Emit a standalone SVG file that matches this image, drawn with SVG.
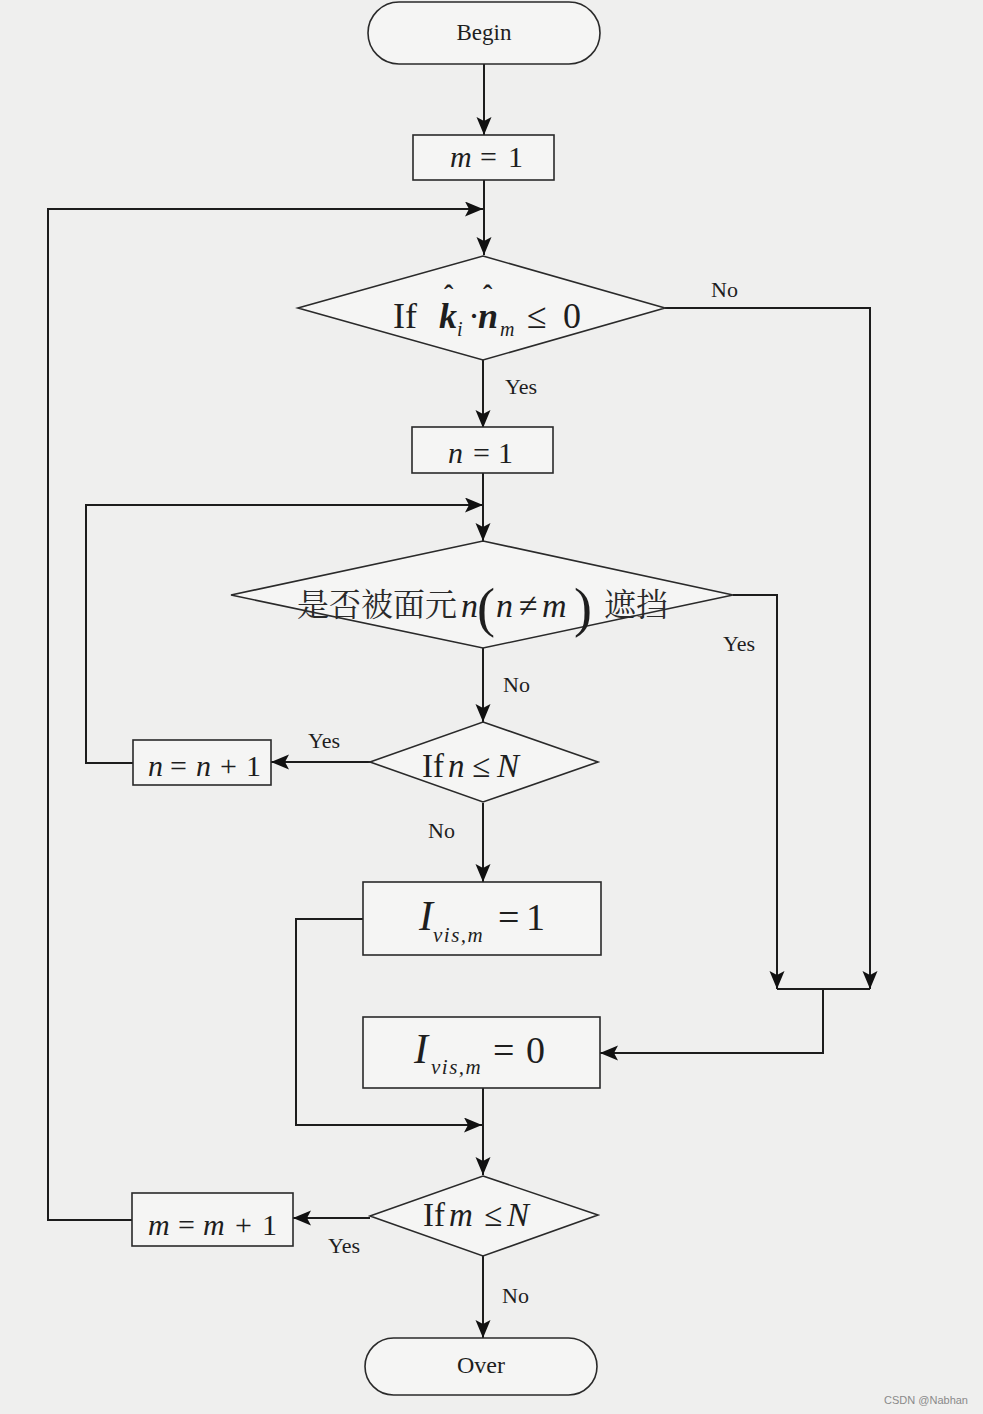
<svg xmlns="http://www.w3.org/2000/svg" width="983" height="1414" viewBox="0 0 983 1414">
<style>
.shape{fill:#f5f5f4;stroke:#2a2a2a;stroke-width:1.6}
.line{fill:none;stroke:#1c1c1c;stroke-width:2}
.t{font-family:"Liberation Serif","Times New Roman",serif;fill:#1e1e1e}
.it{font-style:italic}
.bi{font-style:italic;font-weight:bold}
.cjk{font-family:"Noto Serif CJK SC","Noto Sans CJK SC",serif;fill:#2a2a2a}
.lbl{font-family:"Liberation Serif","Times New Roman",serif;font-size:22px;fill:#1e1e1e}
</style>
<defs>
<marker id="ah" markerWidth="20" markerHeight="16" refX="18" refY="7.5" orient="auto" markerUnits="userSpaceOnUse">
<path d="M0,0 L18,7.5 L0,15 L4,7.5 z" fill="#111"/>
</marker>
</defs>
<rect x="0" y="0" width="983" height="1414" fill="#efefee"/>

<g id="connectors">
<path class="line" d="M484,64 V135" marker-end="url(#ah)"/>
<path class="line" d="M484,180 V255" marker-end="url(#ah)"/>
<path class="line" d="M132,1220 H48 V209 H483" marker-end="url(#ah)"/>
<path class="line" d="M483,360 V428" marker-end="url(#ah)"/>
<path class="line" d="M665,308 H870 V989" marker-end="url(#ah)"/>
<path class="line" d="M483,473 V541" marker-end="url(#ah)"/>
<path class="line" d="M133,763 H86 V505 H483" marker-end="url(#ah)"/>
<path class="line" d="M733,595 H777 V989" marker-end="url(#ah)"/>
<path class="line" d="M483,648 V722" marker-end="url(#ah)"/>
<path class="line" d="M370,762 H271" marker-end="url(#ah)"/>
<path class="line" d="M483,803 V882" marker-end="url(#ah)"/>
<path class="line" d="M777,989 H870 M823,989 V1053 H600" marker-end="url(#ah)"/>
<path class="line" d="M363,919 H296 V1125 H482" marker-end="url(#ah)"/>
<path class="line" d="M483,1088 V1175" marker-end="url(#ah)"/>
<path class="line" d="M370,1218 H293" marker-end="url(#ah)"/>
<path class="line" d="M483,1256 V1338" marker-end="url(#ah)"/>
<text class="lbl" x="711" y="297">No</text>
<text class="lbl" x="505" y="394">Yes</text>
<text class="lbl" x="723" y="651">Yes</text>
<text class="lbl" x="503" y="692">No</text>
<text class="lbl" x="308" y="748">Yes</text>
<text class="lbl" x="428" y="838">No</text>
<text class="lbl" x="328" y="1253">Yes</text>
<text class="lbl" x="502" y="1303">No</text>
</g>

<g id="begin">
<rect class="shape" x="368" y="2" width="232" height="62" rx="31" ry="31"/>
<text class="t" x="484" y="40" font-size="23" text-anchor="middle">Begin</text>
</g>

<g id="m-init">
<rect class="shape" x="413" y="135" width="141" height="45"/>
<text class="t" font-size="30" y="167"><tspan class="it" x="450">m</tspan><tspan x="480">=</tspan><tspan x="508">1</tspan></text>
</g>

<g id="cond-facing">
<polygon class="shape" points="483,256 665,308 483,360 298,308"/>
<text class="t" font-size="36" y="328"><tspan x="393">If</tspan><tspan class="bi" x="439">k</tspan><tspan font-weight="bold" font-size="28" x="444" dy="-24">ˆ</tspan><tspan class="it" font-size="20" x="457" dy="32">i</tspan><tspan x="468" dy="-8">·</tspan><tspan class="bi" x="478">n</tspan><tspan font-weight="bold" font-size="28" x="483" dy="-24">ˆ</tspan><tspan class="it" font-size="20" x="500" dy="32">m</tspan><tspan x="527" dy="-8">≤</tspan><tspan x="563">0</tspan></text>
</g>

<g id="n-init">
<rect class="shape" x="412" y="427" width="141" height="46"/>
<text class="t" font-size="30" y="463"><tspan class="it" x="448">n</tspan><tspan x="473">=</tspan><tspan x="498">1</tspan></text>
</g>

<g id="cond-occluded">
<polygon class="shape" points="483,541 733,595 483,648 231,595"/>
<text class="cjk" font-size="32" x="297" y="616">是否被面元</text>
<text class="t" font-size="34" y="617"><tspan class="it" x="461">n</tspan><tspan class="it" x="496">n</tspan><tspan x="519">≠</tspan><tspan class="it" x="542">m</tspan></text>
<text class="t" font-size="54" y="626"><tspan x="477">(</tspan><tspan x="574">)</tspan></text>
<text class="cjk" font-size="32" x="604" y="616">遮挡</text>
</g>

<g id="cond-n">
<polygon class="shape" points="483,722 598,762 483,802 370,762"/>
<text class="t" font-size="33" y="777"><tspan x="422">If</tspan><tspan class="it" x="448">n</tspan><tspan x="472">≤</tspan><tspan class="it" x="497">N</tspan></text>
</g>

<g id="n-inc">
<rect class="shape" x="133" y="740" width="138" height="45"/>
<text class="t" font-size="30" y="776"><tspan class="it" x="148">n</tspan><tspan x="170">=</tspan><tspan class="it" x="196">n</tspan><tspan x="220">+</tspan><tspan x="246">1</tspan></text>
</g>

<g id="ivis-1">
<rect class="shape" x="363" y="882" width="238" height="73"/>
<text class="t" y="930"><tspan class="it" font-size="42" x="419">I</tspan><tspan class="it" font-size="21" x="433" dy="12" letter-spacing="1.5">vis,m</tspan><tspan font-size="38" x="498" dy="-12">=</tspan><tspan font-size="38" x="526">1</tspan></text>
</g>

<g id="ivis-0">
<rect class="shape" x="363" y="1017" width="237" height="71"/>
<text class="t" y="1063"><tspan class="it" font-size="42" x="414">I</tspan><tspan class="it" font-size="21" x="431" dy="11" letter-spacing="1.5">vis,m</tspan><tspan font-size="38" x="493" dy="-11">=</tspan><tspan font-size="38" x="526">0</tspan></text>
</g>

<g id="cond-m">
<polygon class="shape" points="483,1176 598,1215 483,1256 370,1216"/>
<text class="t" font-size="33" y="1226"><tspan x="423">If</tspan><tspan class="it" x="449">m</tspan><tspan x="484">≤</tspan><tspan class="it" x="507">N</tspan></text>
</g>

<g id="m-inc">
<rect class="shape" x="132" y="1193" width="161" height="53"/>
<text class="t" font-size="30" y="1235"><tspan class="it" x="148">m</tspan><tspan x="178">=</tspan><tspan class="it" x="203">m</tspan><tspan x="235">+</tspan><tspan x="262">1</tspan></text>
</g>

<g id="over">
<rect class="shape" x="365" y="1338" width="232" height="57" rx="28.5" ry="28.5"/>
<text class="t" x="481" y="1373" font-size="24" text-anchor="middle">Over</text>
</g>

<text x="968" y="1404" font-family="Liberation Sans, Arial, sans-serif" font-size="11" fill="#8a8a8a" text-anchor="end">CSDN @Nabhan</text>
</svg>
